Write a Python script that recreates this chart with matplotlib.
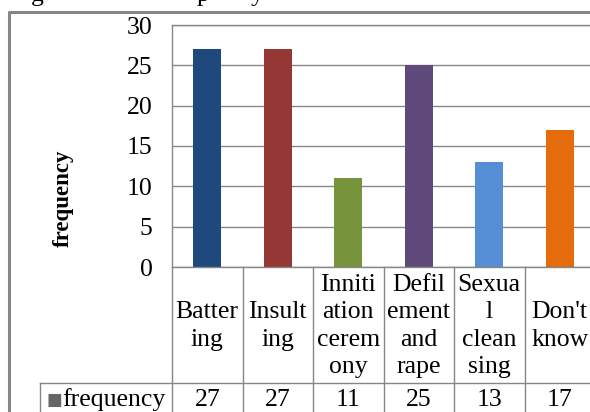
import matplotlib
matplotlib.use("Agg")
import matplotlib.pyplot as plt
from matplotlib.lines import Line2D
from matplotlib.transforms import blended_transform_factory

# data
categories = ["Batter\ning", "Insult\ning", "Inniti\nation\ncerem\nony",
              "Defil\nement\nand\nrape", "Sexua\nl\nclean\nsing", "Don't\nknow"]
frequency = [27, 27, 11, 25, 13, 17]
bar_colors = ["#1F497D", "#953735", "#77933C", "#604A7B", "#558ED5", "#E46C0A"]
yticks = [0, 5, 10, 15, 20, 25, 30]

W, H = 590, 412
plt.rcParams['font.family'] = ['Liberation Serif', 'DejaVu Serif']
fs = 18.5
grey = "#868686"

fig = plt.figure(figsize=(W / 100, H / 100), dpi=100)


def fx(x):
    return x / W


def fy(y):
    return 1 - y / H


# plot area in pixel terms (top-left origin)
left, right, top, bottom = 172, 595, 25, 267
ax = fig.add_axes([fx(left), fy(bottom), fx(right - left), (bottom - top) / H])

ax.bar(range(len(frequency)), frequency, width=0.4, color=bar_colors, zorder=3)
ax.set_xlim(-0.5, len(frequency) - 0.5)
ax.set_ylim(0, 30)
ax.set_yticks(yticks)
ax.set_yticklabels([str(t) for t in yticks], fontsize=fs)
ax.tick_params(axis='y', length=0, pad=14)
ax.set_xticks([])
ax.grid(axis='y', color=grey, linewidth=1, zorder=0)
for s in ax.spines.values():
    s.set_color(grey)
    s.set_linewidth(1)
ax.spines['bottom'].set_visible(False)

fig.text(fx(63), fy(198), "frequency", rotation=90, fontsize=16.5,
         fontweight='bold', ha='center', va='center')

# data table under the plot
mix = blended_transform_factory(ax.transData, fig.transFigure)
row_top, row_mid = 267, 383
for i in range(len(frequency) + 1):
    x = i - 0.5
    fig.add_artist(Line2D([x, x], [fy(row_top), fy(H + 5)], transform=mix,
                          color=grey, lw=1))
fig.add_artist(Line2D([fx(left), fx(W + 5)], [fy(row_top), fy(row_top)],
                      transform=fig.transFigure, color=grey, lw=1))
fig.add_artist(Line2D([fx(40), fx(W + 5)], [fy(row_mid), fy(row_mid)],
                      transform=fig.transFigure, color=grey, lw=1))
fig.add_artist(Line2D([fx(40), fx(40)], [fy(row_mid), fy(H + 5)],
                      transform=fig.transFigure, color=grey, lw=1))

for i, (lab, v) in enumerate(zip(categories, frequency)):
    fig.text(i, fy(326), lab, transform=mix, ha='center', va='center',
             multialignment='center', fontsize=fs, linespacing=1.3)
    fig.text(i, fy(400), str(v), transform=mix, ha='center', va='center',
             fontsize=fs)

fig.text(fx(46), fy(400), "\u25a0", color="#666666", fontsize=12,
         ha='left', va='center', family=['DejaVu Sans'])
fig.text(fx(62), fy(400), "frequency", fontsize=fs, ha='left', va='center')

# outer chart border, running off the right and bottom edges
fig.add_artist(Line2D([fx(9), fx(9), fx(W + 5)], [fy(H + 5), fy(12), fy(12)],
                      transform=fig.transFigure, color=grey, lw=2.2))

# descenders of the caption line cut off at the top
for x, ch in [(37, "g"), (203, "p"), (257, "y")]:
    fig.text(fx(x), fy(0.5), ch, fontsize=fs, ha='center', va='baseline')

fig.savefig("out.png", dpi=100)
